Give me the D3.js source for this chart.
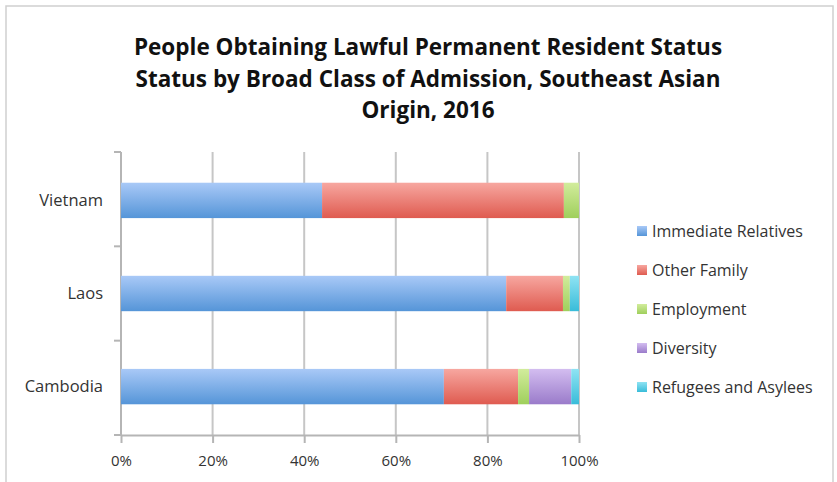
<!DOCTYPE html>
<html>
<head>
<meta charset="utf-8">
<script src="https://cdn.jsdelivr.net/npm/d3@7"></script>
<style>
  body { margin: 0; background: #fff; }
  text { font-family: "Open Sans", Lato, sans-serif; }
</style>
</head>
<body>
<script>
        var w = 837;
        var h = 482;

        // data (share of each country's total)
        var countries = ["Vietnam", "Laos", "Cambodia"];
        var classes = ["Immediate Relatives", "Other Family", "Employment", "Diversity", "Refugees and Asylees"];
        var immediateRelatives = [0.439, 0.841, 0.705];
        var otherFamily        = [0.528, 0.124, 0.162];
        var employment         = [0.033, 0.015, 0.024];
        var diversity          = [0.000, 0.000, 0.092];
        var refugees           = [0.000, 0.020, 0.017];
        var tickValues = [0, 0.2, 0.4, 0.6, 0.8, 1];
        var titleLines = [
            "People Obtaining Lawful Permanent Resident Status",
            "Status by Broad Class of Admission, Southeast Asian",
            "Origin, 2016"
        ];

        var colorsTop    = ["#a9c9f7", "#f7a7a0", "#d2ec9c", "#d3bdf0", "#8fe3f3"];
        var colorsBottom = ["#5595d8", "#df5b50", "#9fcf5c", "#9a7bca", "#39bcd9"];

        var rows = countries.map(function(c, i) {
            return {
                country: c,
                "Immediate Relatives": immediateRelatives[i],
                "Other Family": otherFamily[i],
                "Employment": employment[i],
                "Diversity": diversity[i],
                "Refugees and Asylees": refugees[i]
            };
        });

        var svg = d3.select("body")
                    .append("svg")
                    .attr("width", w)
                    .attr("height", h);

        // gradients for the bar fills
        var defs = svg.append("defs");
        classes.forEach(function(k, i) {
            var g = defs.append("linearGradient")
                .attr("id", "grad" + i)
                .attr("x1", 0).attr("y1", 0).attr("x2", 0).attr("y2", 1);
            g.append("stop").attr("offset", "0%").attr("stop-color", colorsTop[i]);
            g.append("stop").attr("offset", "100%").attr("stop-color", colorsBottom[i]);
        });

        // outer frame
        svg.append("rect")
            .attr("x", 6).attr("y", 6)
            .attr("width", 827).attr("height", 500)
            .attr("fill", "none")
            .attr("stroke", "#cfcfcf")
            .attr("stroke-width", 1.5);

        // title
        svg.selectAll(".title")
            .data(titleLines)
            .enter()
            .append("text")
            .attr("class", "title")
            .attr("x", 428)
            .attr("y", function(d, i) { return 55 + i * 31.5; })
            .attr("text-anchor", "middle")
            .attr("font-size", 22.5)
            .attr("font-weight", "bold")
            .attr("fill", "#111")
            .text(function(d) { return d; });

        var plotLeft = 121, plotRight = 579, plotTop = 152, plotBottom = 435;

        var xscale = d3.scaleLinear()
                        .domain([0, 1])
                        .range([plotLeft, plotRight]);

        var yscale = d3.scaleBand()
                        .domain(countries)
                        .range([plotTop, plotBottom])
                        .paddingInner(0.62)
                        .paddingOuter(0.33);

        // gridlines
        svg.selectAll(".grid")
            .data(tickValues.slice(1))
            .enter()
            .append("line")
            .attr("x1", function(d) { return xscale(d); })
            .attr("x2", function(d) { return xscale(d); })
            .attr("y1", plotTop)
            .attr("y2", plotBottom)
            .attr("stroke", "#c6c6c6")
            .attr("stroke-width", 2);

        // x axis
        var xAxis = svg.append("g")
            .attr("transform", "translate(0," + plotBottom + ")")
            .call(d3.axisBottom(xscale)
                .tickValues(tickValues)
                .tickFormat(d3.format(".0%"))
                .tickSize(8)
                .tickSizeOuter(0));
        xAxis.select(".domain").attr("stroke", "#b5b5b5").attr("stroke-width", 2);
        xAxis.selectAll(".tick line").attr("stroke", "#b5b5b5").attr("stroke-width", 2);
        xAxis.selectAll(".tick text")
            .attr("font-size", 15)
            .attr("font-family", "'Open Sans', sans-serif")
            .attr("fill", "#333")
            .attr("dy", "1.3em");

        // y axis: line with tick marks between categories
        svg.append("line")
            .attr("x1", plotLeft).attr("x2", plotLeft)
            .attr("y1", plotTop).attr("y2", plotBottom)
            .attr("stroke", "#b5b5b5").attr("stroke-width", 2);

        var step = (plotBottom - plotTop) / countries.length;
        svg.selectAll(".ytick")
            .data(d3.range(countries.length + 1))
            .enter()
            .append("line")
            .attr("x1", plotLeft - 7).attr("x2", plotLeft)
            .attr("y1", function(d) { return plotTop + d * step; })
            .attr("y2", function(d) { return plotTop + d * step; })
            .attr("stroke", "#b5b5b5").attr("stroke-width", 2);

        svg.selectAll(".ylabel")
            .data(countries)
            .enter()
            .append("text")
            .attr("x", 103)
            .attr("y", function(d) { return yscale(d) + yscale.bandwidth() / 2; })
            .attr("dy", "0.35em")
            .attr("text-anchor", "end")
            .attr("font-size", 16.5)
            .attr("fill", "#333")
            .text(function(d) { return d; });

        // stacked bars
        var stacked = d3.stack().keys(classes)(rows);

        var groups = svg.selectAll(".series")
            .data(stacked)
            .enter()
            .append("g")
            .attr("fill", function(d, i) { return "url(#grad" + i + ")"; });

        groups.selectAll("rect")
            .data(function(d) { return d; })
            .enter()
            .append("rect")
            .attr("x", function(d) { return xscale(d[0]); })
            .attr("y", function(d) { return yscale(d.data.country); })
            .attr("width", function(d) { return xscale(d[1]) - xscale(d[0]); })
            .attr("height", yscale.bandwidth());

        // legend
        var legend = svg.selectAll(".legend")
            .data(classes)
            .enter()
            .append("g")
            .attr("transform", function(d, i) { return "translate(637," + (231 + i * 39) + ")"; });

        legend.append("rect")
            .attr("x", 0).attr("y", -5)
            .attr("width", 10).attr("height", 10)
            .attr("fill", function(d, i) { return "url(#grad" + i + ")"; });

        legend.append("text")
            .attr("x", 15)
            .attr("dy", "0.35em")
            .attr("font-size", 16)
            .attr("fill", "#333")
            .text(function(d) { return d; });
</script>
</body>
</html>
